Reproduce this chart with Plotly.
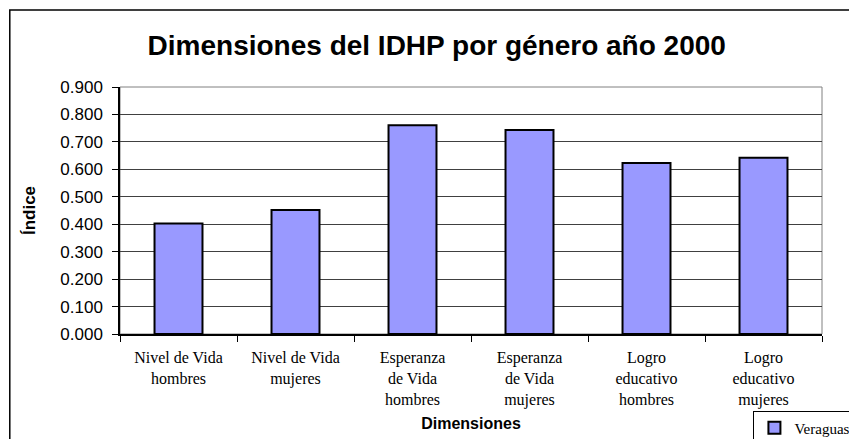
import plotly.graph_objects as go

# Data
categorias = [
    "Nivel de Vida<br>hombres",
    "Nivel de Vida<br>mujeres",
    "Esperanza<br>de Vida<br>hombres",
    "Esperanza<br>de Vida<br>mujeres",
    "Logro<br>educativo<br>hombres",
    "Logro<br>educativo<br>mujeres",
]
veraguas = [0.403, 0.452, 0.761, 0.743, 0.623, 0.642]
y_ticks = [0.0, 0.1, 0.2, 0.3, 0.4, 0.5, 0.6, 0.7, 0.8, 0.9]

fig = go.Figure()

fig.add_trace(
    go.Bar(
        x=categorias,
        y=veraguas,
        name="Veraguas",
        marker=dict(color="#9999FF", line=dict(color="black", width=2)),
    )
)

# Plot-area frame (grey) and outer chart border
fig.add_shape(
    type="rect", xref="paper", yref="paper", x0=0, x1=1, y0=0, y1=1,
    line=dict(color="#808080", width=1), layer="below",
)
fig.add_shape(
    type="rect", xref="paper", yref="paper", x0=-0.157, x1=1.08, y0=-0.48, y1=1.312,
    line=dict(color="black", width=1.5), layer="below",
)

# page has an 8px body margin, so the figure is 8px smaller each way
fig.update_layout(
    width=849,
    height=431,
    margin=dict(l=112, r=35, t=79, b=105, autoexpand=False),
    paper_bgcolor="white",
    plot_bgcolor="white",
    bargap=0.59,
    font=dict(family="Liberation Sans, Arial", color="black"),
    title=dict(
        text="<b>Dimensiones del IDHP por género año 2000</b>",
        x=0.505,
        xanchor="center",
        y=0.914,
        yanchor="middle",
        font=dict(size=28, family="Liberation Sans, Arial", color="black"),
    ),
    showlegend=True,
    legend=dict(
        xref="container",
        yref="container",
        x=0.878,
        y=0.066,
        xanchor="left",
        yanchor="top",
        bordercolor="black",
        borderwidth=1,
        bgcolor="white",
        font=dict(size=15, family="Liberation Serif, serif"),
        itemwidth=30,
        tracegroupgap=0,
    ),
)

fig.update_xaxes(
    automargin=False,
    showline=True,
    linecolor="black",
    linewidth=1.5,
    ticks="outside",
    tickson="boundaries",
    ticklen=6,
    tickcolor="black",
    ticklabelstandoff=8,
    tickfont=dict(size=16, family="Liberation Serif, serif"),
    title=dict(
        text="<b>Dimensiones</b>",
        font=dict(size=16, family="Liberation Sans, Arial"),
        standoff=10,
    ),
)

fig.update_yaxes(
    automargin=False,
    range=[0, 0.9],
    tickvals=y_ticks,
    tickformat=".3f",
    showline=True,
    linecolor="black",
    linewidth=1.5,
    ticks="outside",
    ticklen=6,
    tickcolor="black",
    ticklabelstandoff=6,
    showgrid=True,
    gridcolor="#404040",
    gridwidth=1,
    zeroline=False,
    tickfont=dict(size=17, family="Liberation Sans, Arial"),
    title=dict(
        text="<b>Índice</b>",
        font=dict(size=17, family="Liberation Sans, Arial"),
        standoff=20,
    ),
)

fig.write_html("out.html")
